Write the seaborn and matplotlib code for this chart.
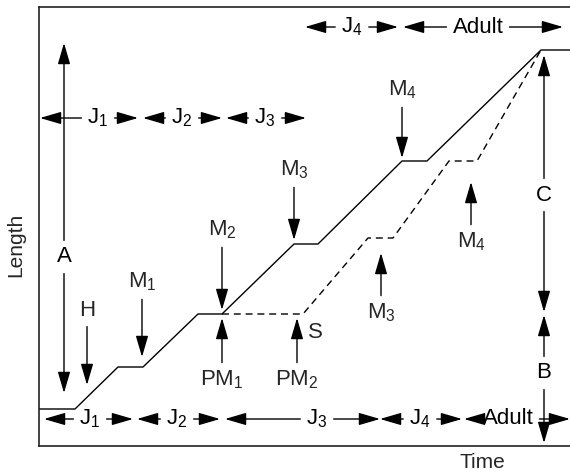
import matplotlib
matplotlib.use("Agg")
import matplotlib.pyplot as plt
import seaborn as sns

# Schematic growth curves (time across, length up; arbitrary units)
solid_time = [0, 36, 79, 104, 159, 183, 255, 279, 363, 388, 502, 531]
solid_length = [37, 37, 79, 79, 132, 132, 202, 202, 285, 285, 396, 396]
dashed_time = [183, 264, 329, 354, 410, 438, 502]
dashed_length = [132, 132, 208, 208, 285, 285, 396]

# Stage spans (label, start, end)
top_stage_labels = ["J$_1$", "J$_2$", "J$_3$", "J$_4$", "Adult"]
top_stage_start = [1, 104, 187, 266, 364]
top_stage_end = [99, 183, 267, 359, 524]
bottom_stage_labels = ["J$_1$", "J$_2$", "J$_3$", "J$_4$", "Adult"]
bottom_stage_start = [5, 98, 186, 341, 425]
bottom_stage_end = [94, 181, 341, 423, 531]

# Event markers (label, time, length pointed at)
down_labels = ["H", "M$_1$", "M$_2$", "M$_3$", "M$_4$"]
down_time = [48, 103, 183, 255, 363]
down_tip = [61, 89, 136, 206, 288]
up_labels = ["PM$_1$", "PM$_2$", "M$_3$", "M$_4$"]
up_time = [183, 258, 342, 432]
up_tip = [128, 128, 193, 264]

# Size measures A, B, C (label, bottom, top)
measure_labels = ["A", "C", "B"]
measure_time = [25, 505, 505]
measure_low = [53, 134, 3]
measure_high = [403, 391, 131]

sns.set_theme(style="white")
plt.rcParams["font.family"] = ["Liberation Sans", "DejaVu Sans"]
plt.rcParams["mathtext.fontset"] = "custom"
plt.rcParams["mathtext.rm"] = "Liberation Sans"
plt.rcParams["mathtext.it"] = "Liberation Sans:italic"

FS = 16
ARROW = dict(arrowstyle="-|>,head_length=1.3,head_width=0.38", mutation_scale=10,
             color="black", lw=1.0, shrinkB=0)

fig = plt.figure(figsize=(5.7, 4.72), dpi=100)
ax = fig.add_axes([39 / 570, 26 / 472, 531 / 570, 439 / 472])

sns.lineplot(x=solid_time, y=solid_length, color="black", lw=1.0,
             estimator=None, sort=False, ax=ax)
sns.lineplot(x=dashed_time, y=dashed_length, color="black", lw=1.0,
             estimator=None, sort=False, ax=ax, dashes=False, linestyle=(0, (5, 3.5)))

ax.set_xlim(0, 531)
ax.set_ylim(0, 439)
ax.set_xticks([])
ax.set_yticks([])
for side in ["top", "left", "bottom"]:
    ax.spines[side].set_color("#222222")
    ax.spines[side].set_linewidth(1.2)
ax.spines["right"].set_visible(False)


def two_way(label, pos, a, b, horizontal=True):
    # label in the middle, arrows pointing out to both ends
    for k, end in enumerate((a, b)):
        if horizontal:
            xy, xyt = (end, pos[1]), pos
        else:
            xy, xyt = (pos[0], end), pos
        ax.annotate(label, xy=xy, xytext=xyt, ha="center", va="center",
                    fontsize=FS, color="black" if k == 0 else "none",
                    arrowprops=ARROW)


# stage rows
top_label_x = [59, 143, 226, 313, 439]
top_row_y = [328, 328, 328, 419, 419]
for lab, lx, ly, s, e in zip(top_stage_labels, top_label_x, top_row_y,
                             top_stage_start, top_stage_end):
    two_way(lab, (lx, ly), s, e)

bottom_label_x = [51, 138, 278, 381, 469]
for lab, lx, s, e in zip(bottom_stage_labels, bottom_label_x,
                         bottom_stage_start, bottom_stage_end):
    two_way(lab, (lx, 27), s, e)

# moult arrows
down_label_y = [136, 164, 216, 276, 356]
for lab, t, tip, ly in zip(down_labels, down_time, down_tip, down_label_y):
    ax.annotate(lab, xy=(t, tip), xytext=(t, ly), ha="center", va="center",
                fontsize=FS, arrowprops=ARROW)

up_label_y = [66, 66, 133, 204]
for lab, t, tip, ly in zip(up_labels, up_time, up_tip, up_label_y):
    ax.annotate(lab, xy=(t, tip), xytext=(t, ly), ha="center", va="center",
                fontsize=FS, arrowprops=ARROW)

ax.text(276, 114, "S", ha="center", va="center", fontsize=FS)

# size measures
measure_label_y = [189, 251, 73]
for lab, t, lo, hi, ly in zip(measure_labels, measure_time, measure_low,
                              measure_high, measure_label_y):
    two_way(lab, (t, ly), lo, hi, horizontal=False)

ax.set_xlabel("Time", fontsize=15)
ax.xaxis.set_label_coords((482 - 39) / 531, -0.015)
ax.set_ylabel("Length", fontsize=15)
ax.yaxis.set_label_coords(-0.026, 0.458)

fig.savefig("out.png", dpi=100)
